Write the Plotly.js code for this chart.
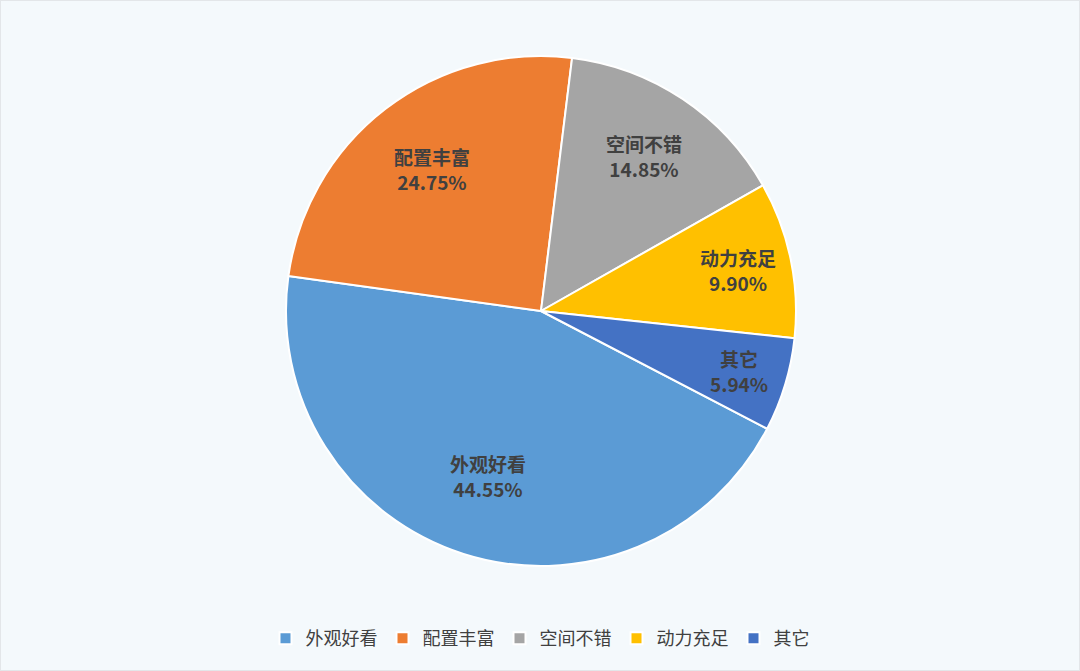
<!DOCTYPE html>
<html>
<head>
<meta charset="utf-8">
<script src="https://cdn.plot.ly/plotly-3.0.1.min.js"></script>
<style>
html,body{margin:0;padding:0;background:#F4F9FC;}
#chart{width:1080px;height:671px;box-sizing:border-box;border:1px solid #E3E6E9;}
</style>
</head>
<body>
<div id="chart"></div>
<script>
const categories = ["外观好看", "配置丰富", "空间不错", "动力充足", "其它"];
const percents = [44.55, 24.75, 14.85, 9.90, 5.94];
const colors = ["#5B9BD5", "#ED7D31", "#A5A5A5", "#FFC000", "#4472C4"];

// label placement style (fraction of radius from centre, like the source chart's label layout)
const labelRadius = [0.68, 0.70, 0.73, 0.79, 0.81];

const W = 1078, H = 669;
const rotation = 117.5;
const dom = {x: [285 / W, 795 / W], y: [1 - 565 / H, 1 - 55 / H]};

const trace = {
  type: "pie",
  labels: categories,
  values: percents,
  textinfo: "none",
  hoverinfo: "label+percent",
  sort: false,
  direction: "clockwise",
  rotation: rotation,
  marker: {colors: colors, line: {color: "#FFFFFF", width: 2}},
  domain: dom
};

// compute label anchors from the data (mid-angle of each slice)
const total = percents.reduce((a, b) => a + b, 0);
const cxPx = (dom.x[0] + dom.x[1]) / 2 * W;
const cyPx = (1 - (dom.y[0] + dom.y[1]) / 2) * H;
const Rpx = Math.min((dom.x[1] - dom.x[0]) * W, (dom.y[1] - dom.y[0]) * H) / 2;
let acc = 0;
const annotations = categories.map((c, i) => {
  const mid = (rotation + (acc + percents[i] / 2) / total * 360) * Math.PI / 180;
  acc += percents[i];
  const r = labelRadius[i] * Rpx;
  const xPx = cxPx + r * Math.sin(mid);
  const yPx = cyPx - r * Math.cos(mid);
  return {
    xref: "paper", yref: "paper",
    x: xPx / W, y: 1 - yPx / H,
    xanchor: "center", yanchor: "middle",
    showarrow: false,
    text: "<b>" + c + "<br>" + percents[i].toFixed(2) + "%</b>",
    font: {family: "Noto Sans CJK SC, Noto Sans, sans-serif", size: 19, color: "#404040"},
    align: "center"
  };
});

const layout = {
  width: W,
  height: H,
  margin: {l: 0, r: 0, t: 0, b: 0},
  paper_bgcolor: "#F4F9FC",
  plot_bgcolor: "#F4F9FC",
  showlegend: true,
  annotations: annotations,
  legend: {
    orientation: "h",
    x: 0.5, xanchor: "center",
    y: 0.047, yanchor: "middle",
    font: {family: "Noto Sans CJK SC, sans-serif", size: 18, color: "#404040"},
    itemwidth: 30,
    traceorder: "normal"
  }
};

Plotly.newPlot("chart", [trace], layout, {displayModeBar: false, staticPlot: true});
</script>
</body>
</html>
